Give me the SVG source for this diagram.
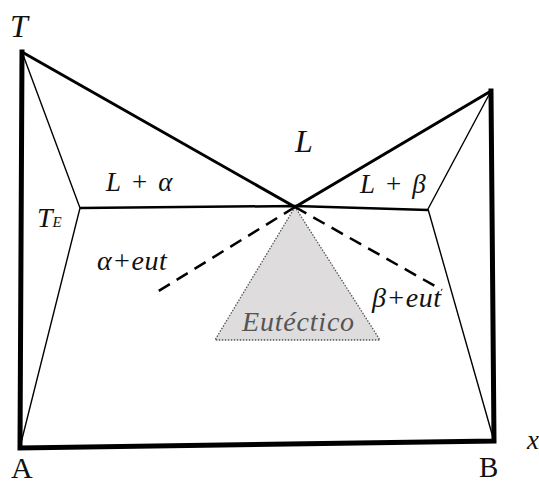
<svg xmlns="http://www.w3.org/2000/svg" width="539" height="483" viewBox="0 0 539 483">
<style>
.lbl{font-family:"Liberation Serif",serif;font-style:italic;fill:#111}
.up{font-family:"Liberation Serif",serif;fill:#111}
.thick{stroke:#000;stroke-width:5;fill:none;stroke-linecap:square}
.med{stroke:#000;stroke-width:3;fill:none}
.thin{stroke:#000;stroke-width:1.4;fill:none}
.dash{stroke:#000;stroke-width:2.5;fill:none;stroke-dasharray:13 8}
</style>
<rect width="539" height="483" fill="#fff"/>
<g id="eutectico">
<polygon points="295,207 215,340 380,340" fill="#dedcdc" stroke="#555" stroke-width="1.3" stroke-dasharray="1.5 1.5"/>
<text class="lbl" x="242" y="331" font-size="28" letter-spacing="0.8" style="fill:#555">Eutéctico</text>
</g>
<g id="connectors">
<polyline class="thick" points="22,52 20,448 494,441 491,91"/>
<polyline class="med" points="22,52 295,207 491,91"/>
<polyline class="thin" points="22,52 80,208 20,447"/>
<polyline class="thin" points="491,91 428,209 494,441"/>
<polyline class="med" style="stroke-width:2.5" points="80,208 295,206 428,210"/>
<line class="dash" x1="295" y1="207" x2="157" y2="292"/>
<line class="dash" x1="295" y1="207" x2="442" y2="290"/>
</g>
<g id="labels">
<text class="lbl" x="10" y="37" font-size="32">T</text>
<text class="lbl" x="295" y="152" font-size="32">L</text>
<text class="lbl" x="106" y="191" font-size="27" letter-spacing="1.5">L + α</text>
<text class="lbl" x="360" y="193" font-size="27" letter-spacing="1.5">L + β</text>
<text class="lbl" x="37" y="227" font-size="28">T<tspan font-size="15">E</tspan></text>
<text class="lbl" x="97" y="270" font-size="28" letter-spacing="0.5">α+eut</text>
<text class="lbl" x="372" y="307" font-size="28" letter-spacing="0.5">β+eut</text>
<text class="lbl" x="527" y="449" font-size="27">x</text>
<text class="up" x="11" y="478" font-size="30">A</text>
<text class="up" x="479" y="477" font-size="29">B</text>
</g>
</svg>
